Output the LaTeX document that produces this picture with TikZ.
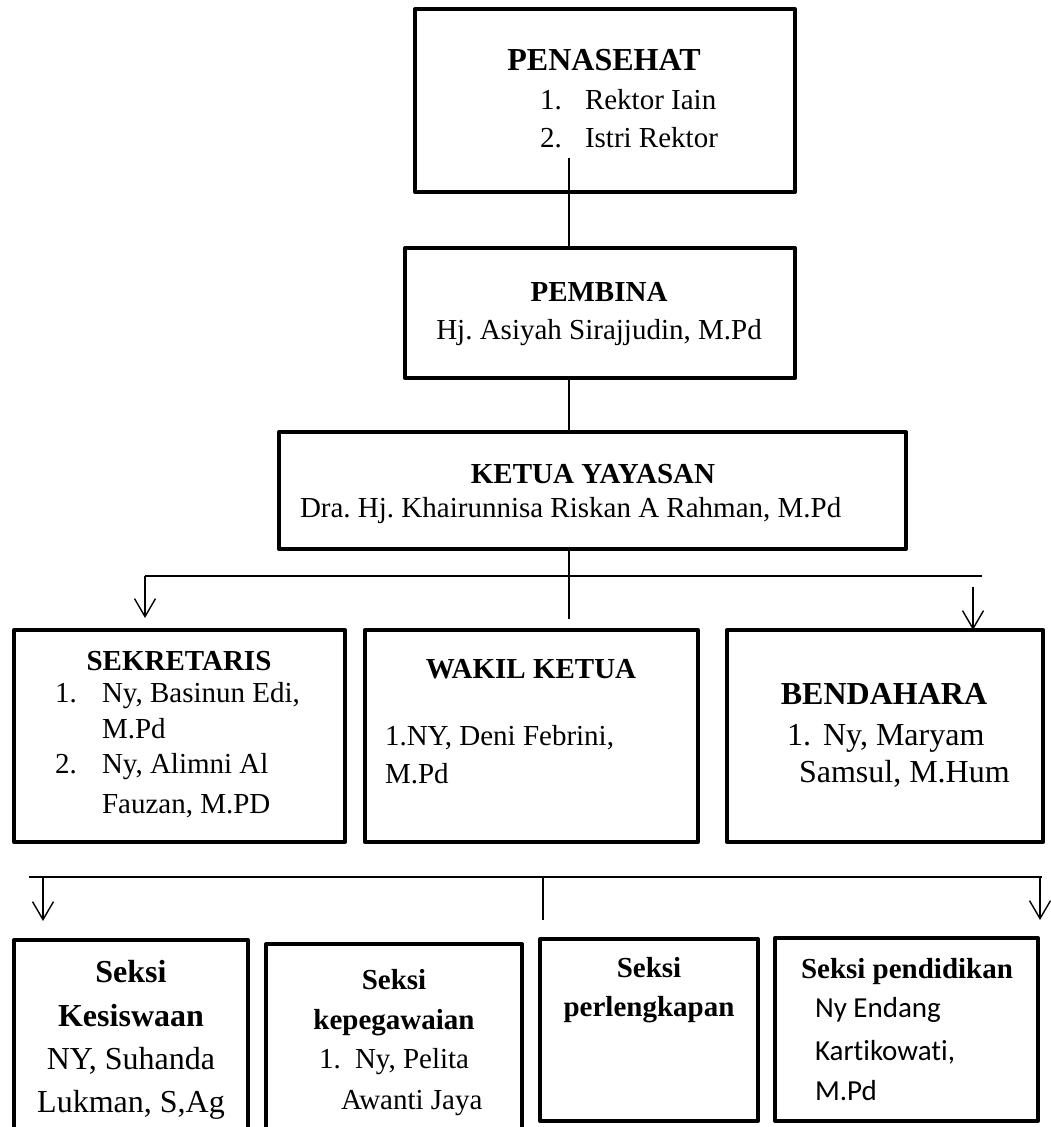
\documentclass[tikz,border=0pt]{standalone}
\usepackage{fontspec}
\setmainfont{Liberation Serif}
\newfontfamily\calibrifont[Ligatures={NoCommon}]{Carlito}
\usetikzlibrary{arrows.meta}
\tikzset{
  boxst/.style={draw, line width=2pt, inner sep=0pt, outer sep=0pt, line join=round},
  conn/.style={line width=0.7pt},
  arr/.style={line width=0.7pt, -{Straight Barb[length=9pt,width=10.5pt]}},
  tn/.style={inner sep=0pt, outer sep=0pt, font=\fontsize{14.5}{17}\selectfont},
  tb/.style={inner sep=0pt, outer sep=0pt, font=\fontsize{14.5}{17}\selectfont\bfseries},
  tnl/.style={inner sep=0pt, outer sep=0pt, font=\fontsize{16}{19}\selectfont},
  tbl/.style={inner sep=0pt, outer sep=0pt, font=\fontsize{16}{19}\selectfont\bfseries},
  tc/.style={inner sep=0pt, outer sep=0pt, font=\fontsize{14.5}{17}\selectfont\calibrifont},
}
\newcommand\mkbox[5]{\node[boxst, minimum width=#4*0.5pt, minimum height=#5*0.5pt] (#1) at (#2,#3) {};}
\begin{document}
\frenchspacing
\begin{tikzpicture}[x=0.5pt,y=-0.5pt]
\useasboundingbox (0,0) rectangle (1050,1127);
% boxes
\mkbox{pen}{605}{100.5}{380}{183}
\mkbox{pem}{600}{313}{390}{130}
\mkbox{ket}{592.5}{490.5}{627}{117}
\mkbox{sek}{179.5}{736}{331}{212}
\mkbox{wak}{531.5}{736}{333}{212}
\mkbox{ben}{885}{736}{316}{212}
\mkbox{kes}{131}{1040}{234}{200}
\mkbox{kep}{394}{1042}{256}{196}
\mkbox{per}{649}{1030}{218}{182}
\mkbox{pnd}{906.5}{1029.5}{263}{183}
% upper connectors
\coordinate (a1) at (569,158);
\draw[conn] (a1) -- (a1 |- pem.north);
\draw[conn] (pem.south -| a1) -- (ket.north -| a1);
\coordinate (a2) at (569,619);
\draw[conn] (ket.south -| a1) -- (a2);
\coordinate (hl) at (145,576);
\coordinate (hr) at (982,576);
\draw[conn] (hl) -- (hr);
\coordinate (tl) at (145,618);
\draw[arr] (hl) -- (tl);
\coordinate (rs) at (973,587);
\draw[arr] (rs) -- (rs |- ben.north);
% lower connectors
\coordinate (ll) at (29,877);
\coordinate (lr) at (1042,877);
\draw[conn] (ll) -- (lr);
\coordinate (lc) at (543,877);
\coordinate (lce) at (543,920);
\draw[conn] (lc) -- (lce);
\coordinate (la) at (43,877);
\coordinate (lat) at (43,921);
\draw[arr] (la) -- (lat);
\coordinate (ra) at (1040,877);
\coordinate (rat) at (1040,920);
\draw[arr] (ra) -- (rat);
% PENASEHAT
\node[tbl, anchor=base] (p1) at (604,71) {PENASEHAT};
\node[tn, anchor=base west] (p2) at (540,110) {1.};
\node[tn, anchor=base west] (p3) at (585,110) {Rektor Iain};
\node[tn, anchor=base west] (p4) at (540,148) {2.};
\node[tn, anchor=base west] (p5) at (585,148) {Istri Rektor};
% PEMBINA
\node[tb, anchor=base] (m1) at (599,302) {PEMBINA};
\node[tn, anchor=base] (m2) at (599,340) {Hj. Asiyah Sirajjudin, M.Pd};
% KETUA
\node[tb, anchor=base] (k1) at (593,483) {KETUA YAYASAN};
\node[tn, anchor=base west] (k2) at (300,517) {Dra. Hj. Khairunnisa Riskan A Rahman, M.Pd};
% SEKRETARIS
\node[tb, anchor=base] (s1) at (179,670) {SEKRETARIS};
\node[tn, anchor=base west] (s2) at (55,702) {1.};
\node[tn, anchor=base west] (s3) at (102,702) {Ny, Basinun Edi,};
\node[tn, anchor=base west] (s4) at (102,738) {M.Pd};
\node[tn, anchor=base west] (s5) at (55,773) {2.};
\node[tn, anchor=base west] (s6) at (102,773) {Ny, Alimni Al};
\node[tn, anchor=base west] (s7) at (102,813) {Fauzan, M.PD};
% WAKIL
\node[tb, anchor=base] (w1) at (531,678) {WAKIL KETUA};
\node[tn, anchor=base west] (w2) at (385,745) {1.NY, Deni Febrini,};
\node[tn, anchor=base west] (w3) at (385,783) {M.Pd};
% BENDAHARA
\node[tbl, anchor=base] (b1) at (884,704) {BENDAHARA};
\node[tnl, anchor=base west] (b2) at (787,745) {1.};
\node[tnl, anchor=base west] (b3) at (823,745) {Ny, Maryam};
\node[tnl, anchor=base west] (b4) at (799,782) {Samsul, M.Hum};
% Kesiswaan
\node[tbl, anchor=base] (e1) at (131,982) {Seksi};
\node[tbl, anchor=base] (e2) at (131,1026) {Kesiswaan};
\node[tnl, anchor=base] (e3) at (131,1069) {NY, Suhanda};
\node[tnl, anchor=base] (e4) at (131,1112) {Lukman, S,Ag};
% Kepegawaian
\node[tb, anchor=base] (g1) at (394,989) {Seksi};
\node[tb, anchor=base] (g2) at (394,1029) {kepegawaian};
\node[tn, anchor=base west] (g3) at (319,1068) {1.};
\node[tn, anchor=base west] (g4) at (355,1068) {Ny, Pelita};
\node[tn, anchor=base west] (g5) at (341,1109) {Awanti Jaya};
% Perlengkapan
\node[tb, anchor=base] (l1) at (649,977) {Seksi};
\node[tb, anchor=base] (l2) at (649,1016) {perlengkapan};
% Pendidikan
\node[tb, anchor=base] (d1) at (907,978) {Seksi pendidikan};
\node[tc, anchor=base west] (d2) at (815,1017) {Ny Endang};
\node[tc, anchor=base west] (d3) at (815,1060) {Kartikowati,};
\node[tc, anchor=base west] (d4) at (815,1100) {M.Pd};
\end{tikzpicture}
\end{document}
